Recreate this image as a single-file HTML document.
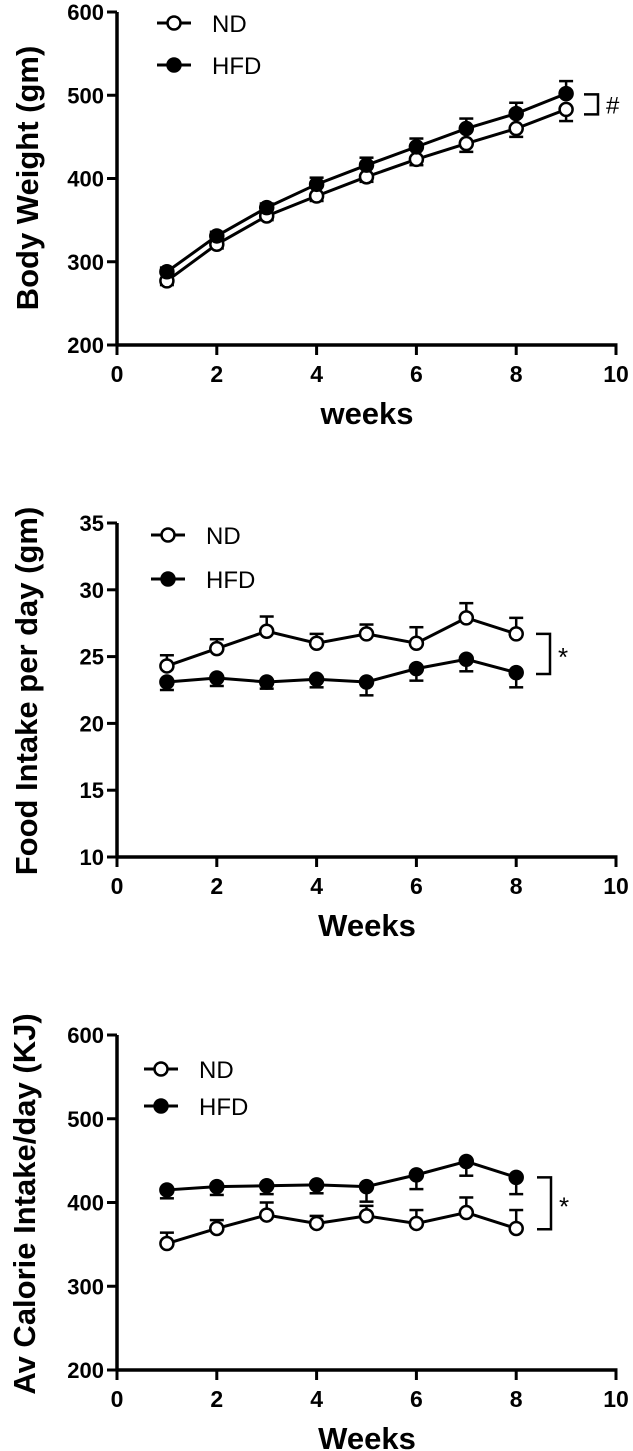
<!DOCTYPE html>
<html><head><meta charset="utf-8"><style>
html,body{margin:0;padding:0;background:#fff;}
svg{display:block;font-family:"Liberation Sans",Arial,sans-serif;}
</style></head><body>
<svg id="fig" width="633" height="1451" viewBox="0 0 633 1451"></svg>
<script>
const weeks1 = [1,2,3,4,5,6,7,8,9];
const bwND = [277,321,355,379,402,423,442,460,483];
const bwNDerr = [5,5,5,6,6,7,10,10,14];
const bwHFD = [288,331,365,393,416,438,460,478,502];
const bwHFDerr = [5,5,5,8,9,10,12,13,15];
const bwYTicks = [200,300,400,500,600];

const weeks2 = [1,2,3,4,5,6,7,8];
const fiND = [24.3,25.6,26.9,26.0,26.7,26.0,27.9,26.7];
const fiNDerr = [0.8,0.7,1.1,0.7,0.7,1.2,1.1,1.2];
const fiHFD = [23.1,23.4,23.1,23.3,23.1,24.1,24.8,23.8];
const fiHFDerr = [0.6,0.6,0.5,0.6,1.0,0.9,0.9,1.1];
const fiYTicks = [10,15,20,25,30,35];

const ciND = [351,369,385,375,384,375,388,369];
const ciNDerr = [13,10,15,9,12,16,18,22];
const ciHFD = [415,419,420,421,419,433,449,430];
const ciHFDerr = [10,10,10,10,18,17,17,20];
const ciYTicks = [200,300,400,500,600];

const xTicks = [0,2,4,6,8,10];

const NS = "http://www.w3.org/2000/svg";
const svg = document.getElementById('fig');
function el(tag, attrs, parent, text){
  const e = document.createElementNS(NS, tag);
  for (const k in attrs) e.setAttribute(k, attrs[k]);
  if (text !== undefined) e.textContent = text;
  (parent || svg).appendChild(e);
  return e;
}

function chart(cfg){
  const g = el('g', {});
  
  
  const x0 = 117, x1 = 616;
  const sx = v => x0 + (x1 - x0) * v / 10;
  const sy = v => cfg.yBot - (cfg.yBot - cfg.yTop) * (v - cfg.yMin) / (cfg.yMax - cfg.yMin);
  const ya = el('line', {x1:x0, y1:cfg.yTop, x2:x0, y2:cfg.yBot+1.5, stroke:'#000','stroke-width':3.5}, g);
  
  
  const xa = el('line', {x1:x0-1.5, y1:cfg.yBot, x2:x1+1.5, y2:cfg.yBot, stroke:'#000','stroke-width':3.5}, g);
  
  
  cfg.yTicks.forEach(v => {
    el('line', {x1:x0-10, y1:sy(v), x2:x0, y2:sy(v), stroke:'#000','stroke-width':3}, g);
    const t = el('text', {x:x0-13, y:sy(v)+8, 'text-anchor':'end','font-size':22,'font-weight':'bold'}, g, v);
    
    
  });
  xTicks.forEach(v => {
    el('line', {x1:sx(v), y1:cfg.yBot, x2:sx(v), y2:cfg.yBot+10, stroke:'#000','stroke-width':3}, g);
    const t = el('text', {x:sx(v), y:cfg.yBot+37, 'text-anchor':'middle','font-size':23,'font-weight':'bold'}, g, v);
    
    
  });
  const xt = el('text', {x:367, y:cfg.yBot+79, 'text-anchor':'middle','font-size':31,'font-weight':'bold'}, g, cfg.xTitle);
  
  
  const yt = el('text', {x:0, y:0, 'text-anchor':'middle','font-size':cfg.yTitleSize,'font-weight':'bold', transform:`translate(${cfg.yTitleX},${cfg.yTitleY}) rotate(-90)`}, g, cfg.yTitle);
  
  

  cfg.series.forEach(s => {
    const sg = el('g', {}, g);
    
    
    s.vals.forEach((v, i) => {
      const e = s.err[i];
      const yEnd = s.errDir > 0 ? sy(v + e) : sy(v - e);
      const x = sx(cfg.weeks[i]);
      el('line', {x1:x, y1:sy(v), x2:x, y2:yEnd, stroke:'#000','stroke-width':2.5}, sg);
      el('line', {x1:x-7, y1:yEnd, x2:x+7, y2:yEnd, stroke:'#000','stroke-width':2.5}, sg);
    });
    const pts = s.vals.map((v, i) => sx(cfg.weeks[i]) + ',' + sy(v)).join(' ');
    const pl = el('polyline', {points:pts, fill:'none', stroke:'#000','stroke-width':3}, sg);
    
    
    s.vals.forEach((v, i) => {
      const c = el('circle', {cx:sx(cfg.weeks[i]), cy:sy(v), r:6.5, fill:s.filled?'#000':'#fff', stroke:'#000','stroke-width':2.5}, sg);
      
      
    });
  });

  cfg.series.forEach((s, k) => {
    const lg = el('g', {}, g);
    
    
    const ly = cfg.legY[k];
    el('line', {x1:cfg.legX-17, y1:ly, x2:cfg.legX+17, y2:ly, stroke:'#000','stroke-width':3}, lg);
    el('circle', {cx:cfg.legX, cy:ly, r:6.5, fill:s.filled?'#000':'#fff', stroke:'#000','stroke-width':2.5}, lg);
    el('text', {x:cfg.legX+38, y:ly+9, 'font-size':24}, lg, s.label);
  });

  const bg = el('g', {}, g);
  
  
  const ya1 = sy(cfg.br[0]), ya2 = sy(cfg.br[1]), bx = cfg.brX;
  el('polyline', {points:`${bx},${ya1} ${bx+14},${ya1} ${bx+14},${ya2} ${bx},${ya2}`, fill:'none', stroke:'#000','stroke-width':2.5}, bg);
  el('text', {x:bx+22, y:(ya1+ya2)/2 + cfg.markDy, 'font-size':cfg.markSize}, bg, cfg.mark);
}

chart({name:'body-weight-chart', yTop:12, yBot:345, yMin:200, yMax:600, yTicks:bwYTicks, weeks:weeks1,
  xTitle:'weeks', yTitle:'Body Weight (gm)', yTitleX:38, yTitleY:178, yTitleSize:31,
  series:[{name:'nd',label:'ND',vals:bwND,err:bwNDerr,errDir:-1,filled:false},
          {name:'hfd',label:'HFD',vals:bwHFD,err:bwHFDerr,errDir:1,filled:true}],
  legX:174, legY:[23,65], br:[501,477], brX:584, mark:'#', markSize:24, markDy:9});

chart({name:'food-intake-chart', yTop:523, yBot:857, yMin:10, yMax:35, yTicks:fiYTicks, weeks:weeks2,
  xTitle:'Weeks', yTitle:'Food Intake per day (gm)', yTitleX:37, yTitleY:691, yTitleSize:31,
  series:[{name:'nd',label:'ND',vals:fiND,err:fiNDerr,errDir:1,filled:false},
          {name:'hfd',label:'HFD',vals:fiHFD,err:fiHFDerr,errDir:-1,filled:true}],
  legX:168, legY:[535,579], br:[26.7,23.7], brX:536, mark:'*', markSize:26, markDy:12});

chart({name:'calorie-intake-chart', yTop:1035, yBot:1370, yMin:200, yMax:600, yTicks:ciYTicks, weeks:weeks2,
  xTitle:'Weeks', yTitle:'Av Calorie Intake/day (KJ)', yTitleX:35, yTitleY:1204, yTitleSize:31,
  series:[{name:'nd',label:'ND',vals:ciND,err:ciNDerr,errDir:1,filled:false},
          {name:'hfd',label:'HFD',vals:ciHFD,err:ciHFDerr,errDir:-1,filled:true}],
  legX:161, legY:[1069,1106], br:[430,368], brX:537, mark:'*', markSize:26, markDy:12});
</script>
</body></html>
